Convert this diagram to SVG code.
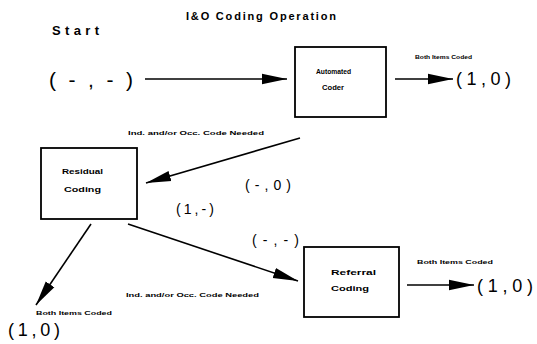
<svg xmlns="http://www.w3.org/2000/svg" width="537" height="344" viewBox="0 0 537 344">
  <defs>
    <marker id="head" markerUnits="userSpaceOnUse" markerWidth="26" markerHeight="12" refX="25" refY="6" orient="auto">
      <path d="M0,0.8 L25,6 L0,11.2 z" fill="#000"/>
    </marker>
    <style>
      text { font-family: "Liberation Sans", Arial, sans-serif; fill: #000; }
      .title { font-size: 11px; font-weight: bold; }
      .start { font-size: 13px; font-weight: bold; }
      .state { font-size: 21px; }
      .state2 { font-size: 18px; }
      .small { font-size: 14px; }
      .note { font-size: 6px; font-weight: bold; }
      .inbox { font-size: 7.5px; font-weight: bold; }
      .box { fill: #fff; stroke: #000; stroke-width: 1.8; }
      .edge { stroke: #000; stroke-width: 1.6; fill: none; marker-end: url(#head); }
    </style>
  </defs>
  <rect width="537" height="344" fill="#fff"/>

  <text class="title" x="186" y="20" textLength="150" lengthAdjust="spacing">I&amp;O Coding Operation</text>
  <text class="start" x="52" y="35" textLength="47" lengthAdjust="spacing">Start</text>

  <g id="connectors">
    <line class="edge" x1="145" y1="79" x2="287" y2="79"/>
    <line class="edge" x1="395" y1="79" x2="453" y2="79"/>
    <line class="edge" x1="300" y1="138" x2="146" y2="183"/>
    <line class="edge" x1="91" y1="224" x2="36" y2="305"/>
    <line class="edge" x1="128" y1="224" x2="298" y2="281"/>
    <line class="edge" x1="407" y1="285" x2="474" y2="285"/>
  </g>

  <g id="start-state">
    <text class="state" x="49" y="87" textLength="84" lengthAdjust="spacing">(-,-)</text>
  </g>

  <g id="automated-coder">
    <rect class="box" x="295" y="47" width="91" height="70"/>
    <text class="inbox" x="316" y="74" textLength="35" lengthAdjust="spacingAndGlyphs">Automated</text>
    <text class="inbox" x="322" y="90" textLength="22" lengthAdjust="spacingAndGlyphs">Coder</text>
  </g>

  <g id="auto-done">
    <text class="note" x="415" y="59" textLength="57" lengthAdjust="spacingAndGlyphs">Both Items Coded</text>
    <text class="state2" x="456" y="85" textLength="55" lengthAdjust="spacing">(1,0)</text>
  </g>

  <g id="auto-needed">
    <text class="note" x="128" y="135" textLength="136" lengthAdjust="spacingAndGlyphs">Ind. and/or Occ. Code Needed</text>
  </g>

  <g id="residual-coding">
    <rect class="box" x="41" y="148" width="96" height="71"/>
    <text class="inbox" x="62" y="174" textLength="41" lengthAdjust="spacingAndGlyphs">Residual</text>
    <text class="inbox" x="64" y="192" textLength="37" lengthAdjust="spacingAndGlyphs">Coding</text>
  </g>

  <g id="partial-states">
    <text class="small" x="245" y="190" textLength="46" lengthAdjust="spacing">(-,0)</text>
    <text class="small" x="176" y="214" textLength="38" lengthAdjust="spacing">(1,-)</text>
    <text class="small" x="252" y="245" textLength="47" lengthAdjust="spacing">(-,-)</text>
  </g>

  <g id="residual-done">
    <text class="note" x="36" y="315" textLength="76" lengthAdjust="spacingAndGlyphs">Both Items Coded</text>
    <text class="state2" x="8" y="336" textLength="52" lengthAdjust="spacing">(1,0)</text>
  </g>

  <g id="residual-needed">
    <text class="note" x="126" y="297" textLength="133" lengthAdjust="spacingAndGlyphs">Ind. and/or Occ. Code Needed</text>
  </g>

  <g id="referral-coding">
    <rect class="box" x="304" y="247" width="95" height="70"/>
    <text class="inbox" x="331" y="275" textLength="45" lengthAdjust="spacingAndGlyphs">Referral</text>
    <text class="inbox" x="331" y="291" textLength="38" lengthAdjust="spacingAndGlyphs">Coding</text>
  </g>

  <g id="referral-done">
    <text class="note" x="417" y="264" textLength="76" lengthAdjust="spacingAndGlyphs">Both Items Coded</text>
    <text class="state2" x="477" y="292" textLength="56" lengthAdjust="spacing">(1,0)</text>
  </g>
</svg>
